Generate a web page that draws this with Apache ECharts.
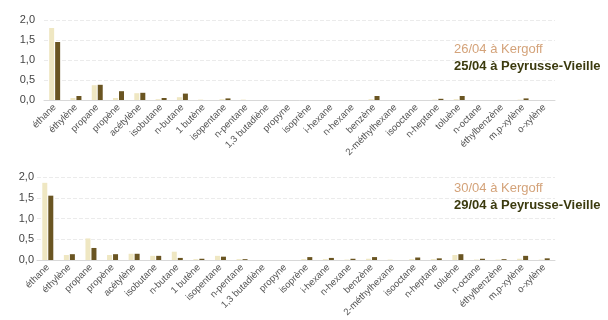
<!DOCTYPE html>
<html>
<head>
<meta charset="utf-8">
<script src="https://cdn.jsdelivr.net/npm/echarts@6/dist/echarts.min.js"></script>
<style>
  html, body { margin: 0; padding: 0; background: #fff; }
  #chart { width: 608px; height: 320px; }
</style>
</head>
<body>
<div id="chart"></div>
<script>
// composés (axe x)
const categories = ['éthane', 'éthylène', 'propane', 'propène', 'acétylène', 'isobutane', 'n-butane', '1 butène',
  'isopentane', 'n-pentane', '1,3 butadiène', 'propyne', 'isoprène', 'i-hexane', 'n-hexane', 'benzène',
  '2-méthylhexane', 'isooctane', 'n-heptane', 'toluène', 'n-octane', 'éthylbenzène', 'm,p-xylène', 'o-xylène'];

const yTicks = [0, 0.5, 1, 1.5, 2];

// haut
const kergoff2604 = [1.8, 0.05, 0.37, 0.05, 0.17, 0.02, 0.07, 0.01, 0.02, 0.01, 0, 0, 0, 0, 0, 0.02, 0, 0, 0.01, 0.02, 0, 0, 0.01, 0];
const peyrusse2504 = [1.45, 0.1, 0.38, 0.22, 0.18, 0.05, 0.16, 0, 0.04, 0, 0, 0, 0, 0, 0, 0.1, 0, 0, 0.03, 0.1, 0, 0, 0.04, 0];

// bas
const kergoff3004 = [1.86, 0.12, 0.52, 0.12, 0.15, 0.1, 0.2, 0.02, 0.1, 0.02, 0, 0, 0.02, 0.02, 0.01, 0.03, 0.01, 0.02, 0.02, 0.12, 0.01, 0.01, 0.03, 0.01];
const peyrusse2904 = [1.55, 0.14, 0.29, 0.14, 0.15, 0.1, 0.05, 0.03, 0.08, 0.02, 0, 0, 0.07, 0.05, 0.03, 0.07, 0, 0.06, 0.04, 0.14, 0.03, 0.02, 0.1, 0.04];

const lightColor = '#efe7c2';
const darkColor = '#6a5522';
const font = 'Liberation Sans';

const chart = echarts.init(document.getElementById('chart'));

function xAxisCfg(gridIndex) {
  return {
    type: 'category',
    gridIndex: gridIndex,
    data: categories,
    axisTick: { show: false },
    axisLine: { lineStyle: { color: '#d8d8d8' } },
    axisLabel: {
      interval: 0,
      rotate: 45,
      fontSize: 9.5,
      color: '#555',
      fontFamily: font,
      margin: 6
    }
  };
}

function yAxisCfg(gridIndex, margin) {
  return {
    type: 'value',
    gridIndex: gridIndex,
    min: yTicks[0],
    max: yTicks[yTicks.length - 1],
    interval: 0.5,
    axisLine: { show: false },
    axisTick: { show: false },
    splitLine: { lineStyle: { color: '#ebebeb', type: 'dashed' } },
    axisLabel: {
      fontSize: 11,
      color: '#444',
      fontFamily: font,
      margin: margin,
      formatter: v => v.toFixed(1).replace('.', ',')
    }
  };
}

function barSeries(name, data, color, idx) {
  return {
    name: name,
    type: 'bar',
    xAxisIndex: idx,
    yAxisIndex: idx,
    data: data,
    barWidth: 5,
    barGap: '20%',
    itemStyle: { color: color }
  };
}

function legendCfg(top, names) {
  return {
    orient: 'vertical',
    left: 444,
    top: top,
    icon: 'none',
    itemWidth: 0,
    itemGap: 4,
    selectedMode: false,
    data: [
      { name: names[0], textStyle: { color: '#d4a37a', fontSize: 13, fontFamily: font } },
      { name: names[1], textStyle: { color: '#3b3a0e', fontSize: 13, fontWeight: 'bold', fontFamily: font } }
    ]
  };
}

const option = {
  animation: false,
  grid: [
    { left: 44, right: 53, top: 20, height: 80 },
    { left: 37, right: 53, top: 177, height: 83 }
  ],
  legend: [
    legendCfg(37, ['26/04 à Kergoff', '25/04 à Peyrusse-Vieille']),
    legendCfg(176, ['30/04 à Kergoff', '29/04 à Peyrusse-Vieille'])
  ],
  xAxis: [xAxisCfg(0), xAxisCfg(1)],
  yAxis: [yAxisCfg(0, 9), yAxisCfg(1, 3)],
  series: [
    barSeries('26/04 à Kergoff', kergoff2604, lightColor, 0),
    barSeries('25/04 à Peyrusse-Vieille', peyrusse2504, darkColor, 0),
    barSeries('30/04 à Kergoff', kergoff3004, lightColor, 1),
    barSeries('29/04 à Peyrusse-Vieille', peyrusse2904, darkColor, 1)
  ]
};

chart.setOption(option);
</script>
</body>
</html>
